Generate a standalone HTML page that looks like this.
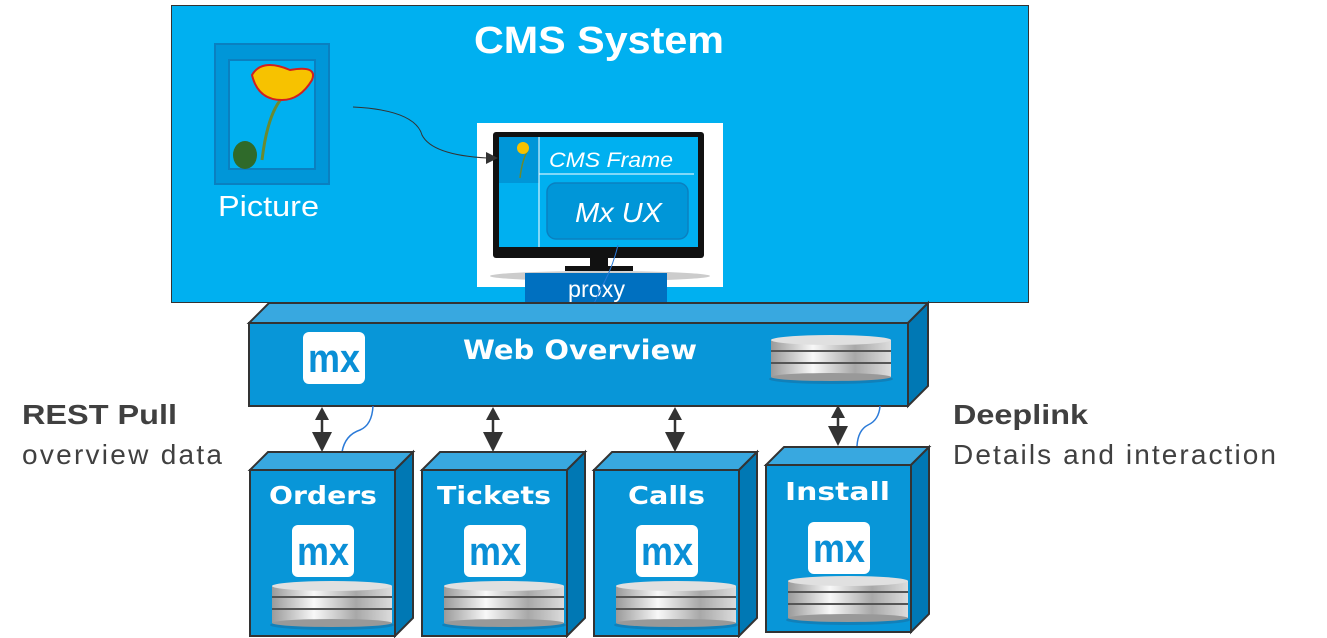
<!DOCTYPE html>
<html><head><meta charset="utf-8"><style>
html,body{margin:0;padding:0;background:#fff}
svg{display:block}
text{font-family:"Liberation Sans",sans-serif}
.b{font-family:"DejaVu Sans","Liberation Sans",sans-serif;font-weight:bold}
</style></head><body>
<svg width="1327" height="638" viewBox="0 0 1327 638" xmlns="http://www.w3.org/2000/svg">
<defs>
<linearGradient id="disk" x1="0" x2="1" y1="0" y2="0">
<stop offset="0" stop-color="#9a9a9a"/><stop offset="0.35" stop-color="#f8f8f8"/><stop offset="0.7" stop-color="#a8a8a8"/><stop offset="1" stop-color="#dcdcdc"/>
</linearGradient>
<g id="db">
<ellipse cx="60" cy="42" rx="62" ry="5" fill="#1a6a9a" opacity="0.5"/>
<rect x="0" y="26" width="120" height="14" fill="url(#disk)"/><ellipse cx="60" cy="40" rx="60" ry="4" fill="#999"/>
<rect x="0" y="14" width="120" height="12" fill="url(#disk)"/><line x1="0" y1="26" x2="120" y2="26" stroke="#555" stroke-width="2"/>
<rect x="0" y="3" width="120" height="11" fill="url(#disk)"/><line x1="0" y1="14" x2="120" y2="14" stroke="#555" stroke-width="2"/>
<ellipse cx="60" cy="3" rx="60" ry="5" fill="#e0e0e0"/>
</g>
<g id="mx">
<rect x="0" y="0" width="62" height="52" rx="6" fill="#fff"/>
<text x="31" y="40" text-anchor="middle" font-size="40" font-weight="bold" fill="#0a8fd6" textLength="52" lengthAdjust="spacingAndGlyphs">mx</text>
</g>
</defs>

<rect x="171.5" y="5.5" width="857" height="297" fill="#00b0f0" stroke="#333" stroke-width="1"/>
<text x="474" y="53" font-size="38" font-weight="bold" fill="#fff" textLength="250" lengthAdjust="spacingAndGlyphs">CMS System</text>

<rect x="215" y="44" width="114" height="140" fill="#0096d8" stroke="#0a80c0" stroke-width="2"/>
<rect x="229" y="60" width="86" height="109" fill="#00b0f0" stroke="#0a80c0" stroke-width="2"/>
<path d="M262 160 Q268 110 285 95" stroke="#6a8a30" stroke-width="3" fill="none"/>
<ellipse cx="245" cy="155" rx="12" ry="14" fill="#2f6a2a"/>
<path d="M252 75 Q262 58 290 70 Q318 65 312 80 Q300 100 282 100 Q258 100 252 75Z" fill="#f7c200" stroke="#d02020" stroke-width="2"/>
<text x="218" y="216" font-size="29" fill="#fff" textLength="101" lengthAdjust="spacingAndGlyphs">Picture</text>

<rect x="477" y="123" width="246" height="164" fill="#fff"/>
<ellipse cx="600" cy="276" rx="110" ry="5" fill="#ccc"/>
<rect x="493" y="132" width="211" height="126" rx="3" fill="#111"/>
<rect x="499" y="137" width="199" height="110" fill="#00b0f0"/>
<rect x="499" y="137" width="40" height="46" fill="#0096d8"/>
<path d="M520 178 Q522 160 528 150" stroke="#6a8a30" stroke-width="1.5" fill="none"/>
<circle cx="523" cy="148" r="6" fill="#f7c200"/>
<line x1="539" y1="137" x2="539" y2="247" stroke="#fff" stroke-width="1"/>
<line x1="539" y1="174" x2="694" y2="174" stroke="#fff" stroke-width="1"/>
<text x="549" y="167" font-size="21" font-style="italic" fill="#fff" textLength="124" lengthAdjust="spacingAndGlyphs">CMS Frame</text>
<rect x="547" y="183" width="141" height="56" rx="9" fill="#0096d8" stroke="#0a80c0" stroke-width="1.5"/>
<text x="575" y="222" font-size="28" font-style="italic" fill="#fff" textLength="87" lengthAdjust="spacingAndGlyphs">Mx UX</text>
<rect x="590" y="258" width="18" height="10" fill="#111"/>
<rect x="565" y="266" width="68" height="5" fill="#111"/>
<rect x="525" y="273" width="142" height="29" fill="#0070c0"/>
<text x="568" y="297" font-size="23" fill="#fff" textLength="57" lengthAdjust="spacingAndGlyphs">proxy</text>
<path d="M618 245 Q612 270 600 290 Q592 310 582 323" stroke="#2a7ad8" stroke-width="1" fill="none"/>

<path d="M353 107 Q415 110 422 135 Q432 155 487 158" stroke="#333" stroke-width="1" fill="none"/>
<polygon points="498,158 486,152 486,164" fill="#333"/>

<polygon points="249,323 269,303 928,303 908,323" fill="#38a8e0" stroke="#333" stroke-width="2"/>
<polygon points="908,323 928,303 928,386 908,406" fill="#0078b4" stroke="#333" stroke-width="2"/>
<rect x="249" y="323" width="659" height="83" fill="#0896d8" stroke="#333" stroke-width="2"/>
<use href="#mx" x="303" y="332"/>
<text class="b" x="463" y="359" font-size="27" fill="#fff" textLength="234" lengthAdjust="spacingAndGlyphs">Web Overview</text>
<use href="#db" x="771" y="337"/>

<text x="22" y="424" font-size="28" font-weight="bold" fill="#404040" textLength="155" lengthAdjust="spacingAndGlyphs">REST Pull</text>
<text x="22" y="464" font-size="28" fill="#404040" textLength="200" lengthAdjust="spacing">overview data</text>
<text x="953" y="424" font-size="28" font-weight="bold" fill="#404040" textLength="135" lengthAdjust="spacingAndGlyphs">Deeplink</text>
<text x="953" y="464" font-size="28" fill="#404040" textLength="323" lengthAdjust="spacing">Details and interaction</text>

<g stroke="#333" stroke-width="2.5" fill="#333">
<line x1="322" y1="412" x2="322" y2="444"/><polygon points="322,407 315,420 329,420" stroke="none"/><polygon points="322,452 312,432 332,432" stroke="none"/>
<line x1="493" y1="412" x2="493" y2="444"/><polygon points="493,407 486,420 500,420" stroke="none"/><polygon points="493,452 483,432 503,432" stroke="none"/>
<line x1="675" y1="412" x2="675" y2="444"/><polygon points="675,407 668,420 682,420" stroke="none"/><polygon points="675,452 665,432 685,432" stroke="none"/>
<line x1="838" y1="412" x2="838" y2="438"/><polygon points="838,405 831,418 845,418" stroke="none"/><polygon points="838,446 828,426 848,426" stroke="none"/>
</g>
<path d="M373 406 Q372 425 360 430 Q345 435 342 452" stroke="#2a7ad8" stroke-width="1.5" fill="none"/>
<path d="M880 406 Q879 420 868 425 Q858 430 857 446" stroke="#2a7ad8" stroke-width="1.5" fill="none"/>

<polygon points="250,470 268,452 413,452 395,470" fill="#38a8e0" stroke="#333" stroke-width="2"/>
<polygon points="395,470 413,452 413,618 395,636" fill="#0078b4" stroke="#333" stroke-width="2"/>
<rect x="250" y="470" width="145" height="166" fill="#0896d8" stroke="#333" stroke-width="2"/>
<text class="b" x="269" y="504" font-size="25" fill="#fff" textLength="108" lengthAdjust="spacingAndGlyphs">Orders</text>
<use href="#mx" x="292" y="525"/>
<use href="#db" x="272" y="583"/>

<polygon points="422,470 440,452 585,452 567,470" fill="#38a8e0" stroke="#333" stroke-width="2"/>
<polygon points="567,470 585,452 585,618 567,636" fill="#0078b4" stroke="#333" stroke-width="2"/>
<rect x="422" y="470" width="145" height="166" fill="#0896d8" stroke="#333" stroke-width="2"/>
<text class="b" x="437" y="504" font-size="25" fill="#fff" textLength="114" lengthAdjust="spacingAndGlyphs">Tickets</text>
<use href="#mx" x="464" y="525"/>
<use href="#db" x="444" y="583"/>

<polygon points="594,470 612,452 757,452 739,470" fill="#38a8e0" stroke="#333" stroke-width="2"/>
<polygon points="739,470 757,452 757,618 739,636" fill="#0078b4" stroke="#333" stroke-width="2"/>
<rect x="594" y="470" width="145" height="166" fill="#0896d8" stroke="#333" stroke-width="2"/>
<text class="b" x="628" y="504" font-size="25" fill="#fff" textLength="77" lengthAdjust="spacingAndGlyphs">Calls</text>
<use href="#mx" x="636" y="525"/>
<use href="#db" x="616" y="583"/>

<polygon points="766,465 784,447 929,447 911,465" fill="#38a8e0" stroke="#333" stroke-width="2"/>
<polygon points="911,465 929,447 929,614 911,632" fill="#0078b4" stroke="#333" stroke-width="2"/>
<rect x="766" y="465" width="145" height="167" fill="#0896d8" stroke="#333" stroke-width="2"/>
<text class="b" x="785" y="500" font-size="25" fill="#fff" textLength="105" lengthAdjust="spacingAndGlyphs">Install</text>
<use href="#mx" x="808" y="522"/>
<use href="#db" x="788" y="578"/>
</svg>
</body></html>
